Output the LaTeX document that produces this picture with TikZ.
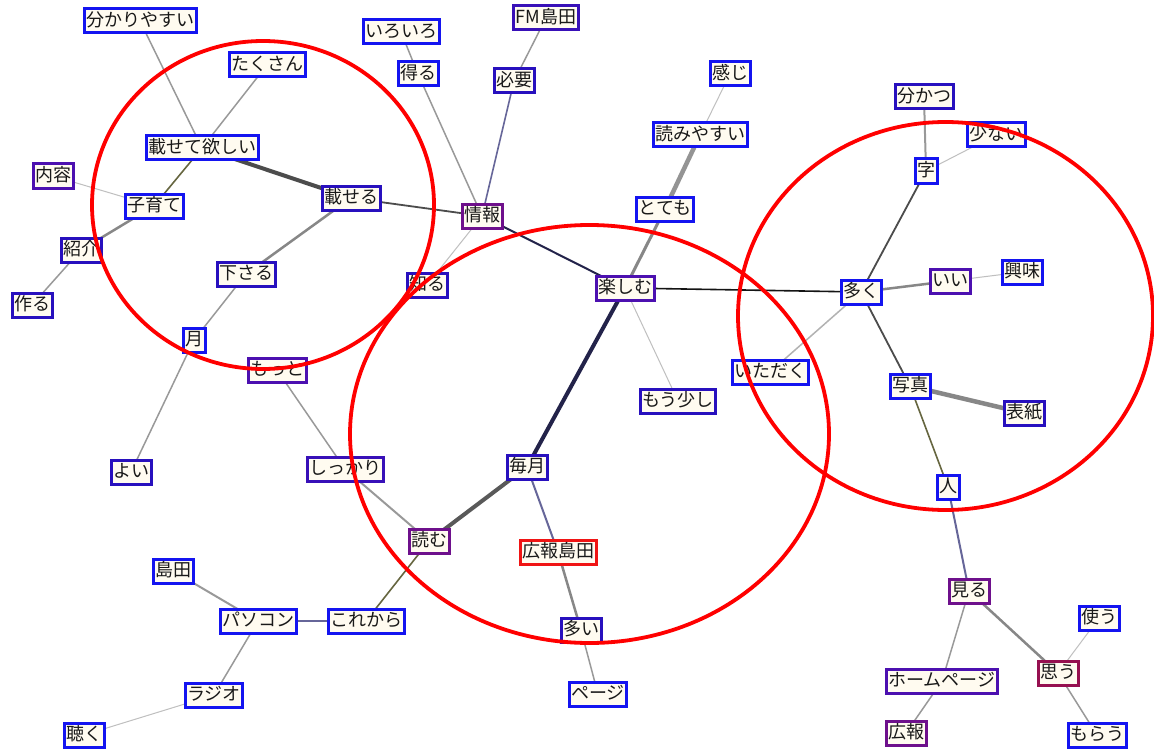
\documentclass[tikz,border=0pt]{standalone}
\usepackage{fontspec}
\newfontfamily\jp{Noto Sans CJK JP}
\pgfdeclarelayer{background}
\pgfsetlayers{background,main}
\definecolor{cream}{RGB}{255,251,240}
\definecolor{bA}{RGB}{20,20,240}
\definecolor{bB}{RGB}{40,16,190}
\definecolor{bBC}{RGB}{56,16,184}
\definecolor{bC}{RGB}{76,16,176}
\definecolor{bD}{RGB}{110,16,140}
\definecolor{bE}{RGB}{150,16,80}
\definecolor{bF}{RGB}{240,20,20}
\definecolor{navy}{RGB}{35,35,74}
\definecolor{bluegray}{RGB}{102,102,153}
\definecolor{olive}{RGB}{102,102,64}
\tikzset{
  w/.style={draw=#1, line width=3pt, fill=cream, font=\jp\fontsize{18}{18}\selectfont,
    text=black!90, inner xsep=2pt, inner ysep=3pt, text height=14.5pt, text depth=3.5pt,
    minimum height=23pt},
  w/.default=bA,
  eA/.style={draw=black!25, line width=1pt},
  eB/.style={draw=black!40, line width=1.5pt},
  eC/.style={draw=black!47, line width=2.5pt},
  eD/.style={draw=black!42, line width=4.5pt},
  dk/.style={draw=black!70, line width=1.8pt},
  dkT/.style={draw=black!70, line width=4pt},
  nv/.style={draw=navy, line width=2pt},
  nvT/.style={draw=navy, line width=4pt},
  bg/.style={draw=bluegray, line width=2pt},
  ol/.style={draw=olive, line width=1.6pt},
  bk/.style={draw=black!92, line width=1.6pt},
  ring/.style={draw=red, line width=3.8pt}
}
\begin{document}
\begin{tikzpicture}[x=1pt,y=-1pt]
\useasboundingbox (0,0) rectangle (1154,749);
% nodes
\node[w] (wakari) at (140,21) {分かりやすい};
\node[w] (takusan) at (267,65) {たくさん};
\node[w] (nosetehoshii) at (202,148) {載せて欲しい};
\node[w=bC] (naiyou) at (53,176) {内容};
\node[w] (kosodate) at (154,206) {子育て};
\node[w=bB] (shoukai) at (81,250) {紹介};
\node[w=bB] (tsukuru) at (32,305) {作る};
\node[w=bB] (noseru) at (351,198) {載せる};
\node[w=bB] (kudasaru) at (246,274) {下さる};
\node[w=bB] (shiru) at (427,285) {知る};
\node[w] (tsuki) at (194,340) {月};
\node[w=bC] (motto) at (277,370) {もっと};
\node[w=bB] (yoi) at (131,472) {よい};
\node[w=bBC] (shikkari) at (345,469) {しっかり};
\node[w=bD] (yomu) at (429,541) {読む};
\node[w] (shimada) at (173,571) {島田};
\node[w] (pasokon) at (258,621) {パソコン};
\node[w] (korekara) at (366,621) {これから};
\node[w] (rajio) at (214,695) {ラジオ};
\node[w] (kiku) at (84,735) {聴く};
\node[w] (iroiro) at (401,32) {いろいろ};
\node[w] (eru) at (418,74) {得る};
\node[w=bBC] (fm) at (546,18) {FM島田};
\node[w=bB] (hitsuyou) at (514,81) {必要};
\node[w=bD] (jouhou) at (482,216) {情報};
\node[w] (kanji) at (730,74) {感じ};
\node[w] (yomiyasui) at (700,135) {読みやすい};
\node[w] (totemo) at (665,209) {とても};
\node[w=bC] (tanoshimu) at (625,288) {楽しむ};
\node[w=bB] (mousukoshi) at (678,401) {もう少し};
\node[w=bB] (maitsuki) at (527,467) {毎月};
\node[w=bF] (kouhoushimada) at (558,552) {広報島田};
\node[w=bB] (ooi) at (581,630) {多い};
\node[w] (peji) at (598,694) {ページ};
\node[w] (itadaku) at (770,372) {いただく};
\node[w=bB] (wakatsu) at (924,97) {分かつ};
\node[w] (sukunai) at (996,135) {少ない};
\node[w] (ji) at (926,171) {字};
\node[w] (ooku) at (861,292) {多く};
\node[w=bC] (ii) at (950,281) {いい};
\node[w] (kyoumi) at (1022,272) {興味};
\node[w] (shashin) at (910,386) {写真};
\node[w=bB] (hyoushi) at (1024,413) {表紙};
\node[w] (hito) at (948,487) {人};
\node[w=bD] (miru) at (969,591) {見る};
\node[w] (tsukau) at (1099,618) {使う};
\node[w=bE] (omou) at (1058,673) {思う};
\node[w=bC] (homepage) at (942,681) {ホームページ};
\node[w=bD] (kouhou) at (906,733) {広報};
\node[w] (morau) at (1097,735) {もらう};
% edges
\begin{pgfonlayer}{background}
\fill[white] (0,0) rectangle (1154,749);
\draw[eB] (wakari.center) -- (nosetehoshii.center);
\draw[eB] (takusan.center) -- (nosetehoshii.center);
\draw[dkT] (nosetehoshii.center) -- (noseru.center);
\draw[ol] (nosetehoshii.center) -- (kosodate.center);
\draw[eA] (naiyou.center) -- (kosodate.center);
\draw[eC] (kosodate.center) -- (shoukai.center);
\draw[eB] (shoukai.center) -- (tsukuru.center);
\draw[dk] (noseru.center) -- (jouhou.center);
\draw[eC] (noseru.center) -- (kudasaru.center);
\draw[eB] (kudasaru.center) -- (tsuki.center);
\draw[eB] (tsuki.center) -- (yoi.center);
\draw[eB] (jouhou.center) -- (eru.center);
\draw[eB] (eru.center) -- (iroiro.center);
\draw[bg, line width=1.6pt] (jouhou.center) -- (hitsuyou.center);
\draw[eB] (hitsuyou.center) -- (fm.center);
\draw[eA] (jouhou.center) -- (shiru.center);
\draw[nv] (jouhou.center) -- (tanoshimu.center);
\draw[eC, line width=3pt] (tanoshimu.center) -- (totemo.center);
\draw[eD] (totemo.center) -- (yomiyasui.center);
\draw[eA] (yomiyasui.center) -- (kanji.center);
\draw[bk] (tanoshimu.center) -- (ooku.center);
\draw[eA] (tanoshimu.center) -- (mousukoshi.center);
\draw[nvT] (tanoshimu.center) -- (maitsuki.center);
\draw[dkT, draw=black!65] (maitsuki.center) -- (yomu.center);
\draw[bg] (maitsuki.center) -- (kouhoushimada.center);
\draw[eC] (kouhoushimada.center) -- (ooi.center);
\draw[eB] (ooi.center) -- (peji.center);
\draw[eB, line width=2pt] (yomu.center) -- (shikkari.center);
\draw[eB] (shikkari.center) -- (motto.center);
\draw[ol] (yomu.center) -- (korekara.center);
\draw[bg, line width=2.5pt] (korekara.center) -- (pasokon.center);
\draw[eB, line width=2pt] (pasokon.center) -- (shimada.center);
\draw[eB] (pasokon.center) -- (rajio.center);
\draw[eA] (rajio.center) -- (kiku.center);
\draw[dk] (ooku.center) -- (ji.center);
\draw[eB, line width=2pt] (ji.center) -- (wakatsu.center);
\draw[eA] (ji.center) -- (sukunai.center);
\draw[eC] (ooku.center) -- (ii.center);
\draw[eA] (ii.center) -- (kyoumi.center);
\draw[eB, draw=black!30] (ooku.center) -- (itadaku.center);
\draw[dk] (ooku.center) -- (shashin.center);
\draw[eD, draw=black!47] (shashin.center) -- (hyoushi.center);
\draw[ol] (shashin.center) -- (hito.center);
\draw[bg] (hito.center) -- (miru.center);
\draw[eB] (miru.center) -- (homepage.center);
\draw[eC] (miru.center) -- (omou.center);
\draw[eA] (omou.center) -- (tsukau.center);
\draw[eB] (omou.center) -- (morau.center);
\draw[eB] (homepage.center) -- (kouhou.center);
\end{pgfonlayer}
% circles
\draw[ring] (263,205) ellipse [x radius=171, y radius=164];
\draw[ring] (589.5,434) ellipse [x radius=239.5, y radius=209];
\draw[ring] (945.5,316) ellipse [x radius=207.5, y radius=194];
\end{tikzpicture}
\end{document}
